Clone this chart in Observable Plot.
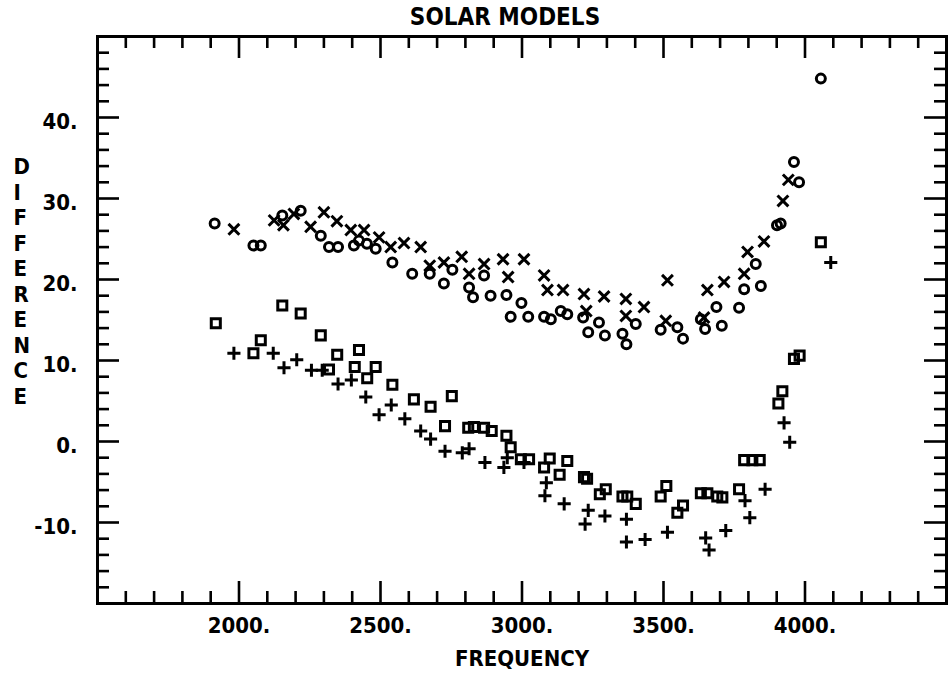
<!DOCTYPE html>
<html><head><meta charset="utf-8">
<script src="https://cdn.jsdelivr.net/npm/d3@7"></script>
<script src="https://cdn.jsdelivr.net/npm/@observablehq/plot@0.6"></script>
<style>
body{margin:0;background:#fff;}
svg text{font-variant-numeric: tabular-nums slashed-zero;}
</style></head><body><div id="chart"></div>
<script>
const title = "SOLAR MODELS";
const xLabel = "FREQUENCY";
const yLabel = "DIFFERENCE";
const xTicks = [2000, 2500, 3000, 3500, 4000];
const yTicks = [-10, 0, 10, 20, 30, 40];

// circles
const circF = [1914,2051,2077,2153,2218,2289,2318,2350,2406,2424,2452,2483,2542,2612,2674,2724,2754,2813,2827,2866,2889,2945,2960,2998,3022,3078,3102,3137,3160,3216,3234,3272,3293,3355,3369,3402,3490,3549,3569,3632,3647,3687,3706,3767,3785,3826,3844,3901,3914,3961,3979,4056];
const circD = [26.9,24.2,24.2,27.9,28.5,25.4,24.0,24.0,24.2,24.8,24.4,23.8,22.1,20.7,20.7,19.5,21.2,19.0,17.8,20.5,18.0,18.1,15.4,17.1,15.4,15.4,15.1,16.1,15.7,15.3,13.5,14.7,13.1,13.3,12.0,14.5,13.8,14.1,12.7,15.1,13.9,16.6,14.3,16.5,18.8,21.9,19.2,26.7,26.9,34.5,32.0,44.8];
// x marks
const crossF = [1982,2124,2157,2194,2253,2300,2346,2395,2442,2495,2536,2583,2642,2674,2724,2787,2813,2866,2933,2951,3007,3078,3090,3145,3219,3227,3290,3367,3367,3431,3514,3508,3643,3655,3714,3785,3797,3855,3922,3941];
const crossD = [26.2,27.3,26.7,28.1,26.5,28.3,27.2,26.1,26.1,25.2,24.0,24.5,24.0,21.7,22.1,22.8,20.7,21.9,22.5,20.3,22.5,20.5,18.7,18.7,18.2,16.1,17.9,17.6,15.5,16.6,19.9,14.9,15.3,18.7,19.7,20.7,23.4,24.7,29.7,32.3];
// squares
const sqF = [1918,2051,2077,2153,2218,2289,2318,2347,2424,2409,2483,2453,2542,2618,2677,2752,2728,2810,2830,2866,2893,2945,2960,2996,3025,3078,3098,3133,3160,3219,3230,3275,3296,3355,3372,3402,3490,3510,3549,3569,3632,3655,3690,3708,3767,3785,3814,3840,3906,3920,3961,3981,4056];
const sqD = [14.6,10.9,12.5,16.8,15.8,13.1,8.9,10.7,11.3,9.2,9.2,7.8,7.0,5.2,4.3,5.6,1.9,1.7,1.8,1.7,1.3,0.7,-0.7,-2.2,-2.2,-3.2,-2.1,-4.1,-2.4,-4.4,-4.6,-6.5,-5.9,-6.8,-6.8,-7.7,-6.8,-5.5,-8.8,-7.9,-6.4,-6.4,-6.8,-6.9,-5.9,-2.3,-2.3,-2.3,4.7,6.2,10.2,10.6,24.6];
// plus marks
const plusF = [1982,2121,2159,2204,2256,2294,2350,2397,2448,2495,2538,2586,2642,2677,2728,2789,2813,2869,2936,2948,3007,3086,3081,3149,3234,3223,3293,3369,3369,3435,3514,3649,3661,3720,3788,3805,3859,3926,3946,4091];
const plusD = [10.9,10.9,9.1,10.1,8.8,8.8,7.1,7.6,5.5,3.3,4.5,2.8,1.3,0.3,-1.2,-1.4,-0.9,-2.6,-3.2,-2.0,-2.6,-5.1,-6.7,-7.7,-8.5,-10.2,-9.2,-9.6,-12.4,-12.1,-11.2,-11.9,-13.4,-11.0,-7.3,-9.4,-5.9,2.3,-0.1,22.1];

const W = 948, H = 675, mL = 97, mR = 2, mT = 36, mB = 72;
const fw = W - mL - mR, fh = H - mT - mB;
const rows = (F, D) => F.map((f, i) => ({f, d: D[i]}));
const minorX = d3.range(1600, 4500, 100).filter(v => v % 500 !== 0);
const minorY = d3.range(-18, 50, 2).filter(v => v % 10 !== 0);
const font = "'DejaVu Sans Condensed','Liberation Sans Narrow','DejaVu Sans',sans-serif";
const sw = 2.6;

const chart = Plot.plot({
  width: W, height: H,
  marginLeft: mL, marginRight: mR, marginTop: mT, marginBottom: mB,
  x: {domain: [1500, 4500]},
  y: {domain: [-20, 50]},
  style: {fontFamily: font, fontWeight: "bold", fontSize: "22px", color: "#000", background: "#fff"},
  marks: [
    Plot.frame({stroke: "#000", strokeWidth: 3}),
    // inward ticks, bottom/top
    Plot.tickX(xTicks, {x: d => d, insetTop: fh - 22, strokeWidth: sw}),
    Plot.tickX(minorX, {x: d => d, insetTop: fh - 12, strokeWidth: sw}),
    Plot.tickX(xTicks, {x: d => d, insetBottom: fh - 22, strokeWidth: sw}),
    Plot.tickX(minorX, {x: d => d, insetBottom: fh - 12, strokeWidth: sw}),
    // inward ticks, left/right
    Plot.tickY(yTicks, {y: d => d, insetRight: fw - 22, strokeWidth: sw}),
    Plot.tickY(minorY, {y: d => d, insetRight: fw - 12, strokeWidth: sw}),
    Plot.tickY(yTicks, {y: d => d, insetLeft: fw - 22, strokeWidth: sw}),
    Plot.tickY(minorY, {y: d => d, insetLeft: fw - 12, strokeWidth: sw}),
    Plot.axisX({ticks: xTicks, tickSize: 0, tickPadding: 14, tickFormat: d => `${d}.`, label: null, fontSize: 22, fontWeight: "bold"}),
    Plot.axisY({ticks: yTicks, tickSize: 0, tickPadding: 20, tickFormat: d => `${d}.`, label: null, fontSize: 22, fontWeight: "bold", dy: 4}),
    Plot.text([title], {frameAnchor: "top", lineAnchor: "middle", dx: -17, dy: -19, fontSize: 24, fontWeight: "bold"}),
    Plot.text([xLabel], {frameAnchor: "bottom", lineAnchor: "middle", dy: 55, fontSize: 22, fontWeight: "bold"}),
    Plot.text([yLabel.split("").join("\n")], {frameAnchor: "left", lineAnchor: "middle", dx: -84, dy: -39, lineHeight: 1.16, fontSize: 22, fontWeight: "bold"}),
    // data
    Plot.dot(rows(circF, circD), {x: "f", y: "d", symbol: "circle", r: 4.5, stroke: "#000", strokeWidth: 3, fill: "none"}),
    Plot.dot(rows(crossF, crossD), {x: "f", y: "d", symbol: "times", r: 5, stroke: "#000", strokeWidth: 3, fill: "none"}),
    Plot.dot(rows(sqF, sqD), {x: "f", y: "d", symbol: "square", r: 5.1, stroke: "#000", strokeWidth: 3, fill: "none"}),
    Plot.dot(rows(plusF, plusD), {x: "f", y: "d", symbol: "plus", r: 4.3, stroke: "#000", strokeWidth: 3, fill: "none"})
  ]
});
document.getElementById("chart").append(chart);
</script></body></html>
